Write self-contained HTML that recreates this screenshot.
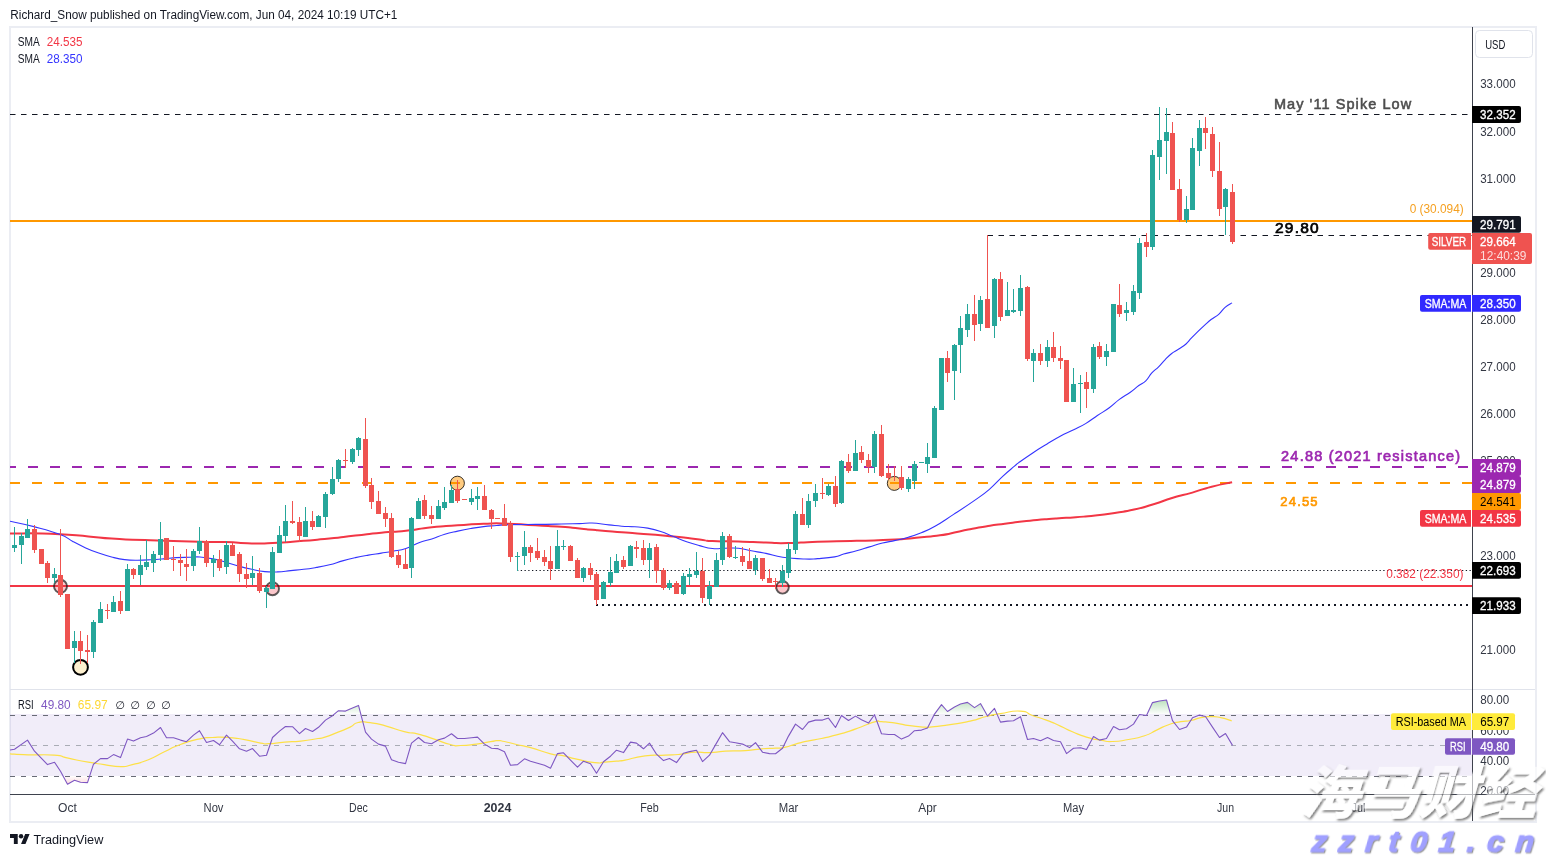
<!DOCTYPE html>
<html lang="en"><head><meta charset="utf-8"><title>SILVER chart</title>
<style>html,body{margin:0;padding:0;background:#fff;}body{width:1546px;height:857px;overflow:hidden;font-family:"Liberation Sans", "Noto Sans CJK SC", sans-serif;}svg{display:block}</style>
</head><body>
<svg width="1546" height="857" viewBox="0 0 1546 857" font-family='"Liberation Sans", "Noto Sans CJK SC", sans-serif' shape-rendering="auto">
<defs><clipPath id="cm"><rect x="10" y="27" width="1462" height="663"/></clipPath><clipPath id="cr"><rect x="10" y="690" width="1462" height="104"/></clipPath><clipPath id="c70"><rect x="10" y="690" width="1462" height="24"/></clipPath><clipPath id="c30"><rect x="10" y="776.4" width="1462" height="17.6"/></clipPath><clipPath id="cax"><rect x="1473" y="27" width="62" height="767"/></clipPath><linearGradient id="gg" x1="0" y1="697" x2="0" y2="714" gradientUnits="userSpaceOnUse"><stop offset="0" stop-color="#4caf50" stop-opacity="0.45"/><stop offset="1" stop-color="#4caf50" stop-opacity="0.02"/></linearGradient><linearGradient id="gr" x1="0" y1="776.4" x2="0" y2="790" gradientUnits="userSpaceOnUse"><stop offset="0" stop-color="#f23645" stop-opacity="0.02"/><stop offset="1" stop-color="#f23645" stop-opacity="0.3"/></linearGradient><filter id="ws" x="-5%" y="-15%" width="110%" height="140%"><feGaussianBlur in="SourceAlpha" stdDeviation="0.9" result="b"/><feOffset in="b" dx="2.2" dy="2.2" result="o"/><feFlood flood-color="#5a5a5a" flood-opacity="0.75"/><feComposite in2="o" operator="in" result="sh"/><feComposite in="sh" in2="SourceAlpha" operator="out" result="sh2"/><feColorMatrix in="SourceGraphic" type="matrix" values="1 0 0 0 0 0 1 0 0 0 0 0 1 0 0 0 0 0 0.62 0" result="sg"/><feMerge><feMergeNode in="sh2"/><feMergeNode in="sg"/></feMerge></filter><filter id="ws2" x="-5%" y="-15%" width="110%" height="140%"><feDropShadow dx="1.2" dy="1.2" stdDeviation="0.6" flood-color="#666" flood-opacity="0.7"/></filter></defs>
<rect width="1546" height="857" fill="#fff"/>
<text x="10.3" y="19" font-size="12" fill="#131722" textLength="387" lengthAdjust="spacingAndGlyphs" >Richard_Snow published on TradingView.com, Jun 04, 2024 10:19 UTC+1</text>
<rect x="10" y="27" width="1526" height="795" fill="none" stroke="#ebedf3" stroke-width="2"/>
<g clip-path="url(#cm)">
<line x1="10" y1="114.5" x2="1472" y2="114.5" stroke="#131722" stroke-width="1.2" stroke-dasharray="5.5 5.5"/>
<line x1="987.5" y1="235.5" x2="1472" y2="235.5" stroke="#131722" stroke-width="1.2" stroke-dasharray="5.5 5.5"/>
<line x1="10" y1="221" x2="1472" y2="221" stroke="#ff9800" stroke-width="2"/>
<line x1="6" y1="467" x2="1470" y2="467" stroke="#9c27b0" stroke-width="2" stroke-dasharray="10 12"/>
<line x1="10" y1="483" x2="1472" y2="483" stroke="#ff9800" stroke-width="2" stroke-dasharray="10 12"/>
<line x1="10" y1="586" x2="1472" y2="586" stroke="#f23645" stroke-width="2"/>
<line x1="517" y1="570.5" x2="1472" y2="570.5" stroke="#131722" stroke-width="1.2" stroke-dasharray="1.3 2.45"/>
<line x1="596" y1="605" x2="1470" y2="605" stroke="#131722" stroke-width="2" stroke-dasharray="2 4"/>
<circle cx="60.5" cy="586.3" r="6.5" fill="rgba(242,54,69,0.28)" stroke="rgba(30,30,30,0.72)" stroke-width="1.9"/>
<circle cx="272.5" cy="588.7" r="6.5" fill="rgba(242,54,69,0.28)" stroke="rgba(30,30,30,0.72)" stroke-width="1.9"/>
<circle cx="782.5" cy="587.3" r="6.3" fill="rgba(242,54,69,0.28)" stroke="rgba(30,30,30,0.72)" stroke-width="1.9"/>
<circle cx="80.5" cy="667.3" r="7.4" fill="#fdf0cf" stroke="#000" stroke-width="2"/>
<circle cx="457.4" cy="483.2" r="7" fill="rgba(255,152,0,0.5)" stroke="rgba(0,0,0,0.78)" stroke-width="1"/>
<circle cx="894.3" cy="483.4" r="7" fill="rgba(255,152,0,0.5)" stroke="rgba(0,0,0,0.78)" stroke-width="1"/>
<path d="M10.0,533.4 C26.6,533.7 25.9,532.6 59.8,534.3 C93.7,536.0 81.4,536.6 111.6,538.6 C141.8,540.6 121.0,539.2 150.5,540.2 C180.0,541.2 174.9,541.1 200.0,541.7 C225.1,542.3 208.6,541.5 225.9,542.1 C243.2,542.7 234.5,543.2 251.8,543.4 C269.1,543.6 260.4,543.6 277.7,542.7 C295.0,541.8 286.3,542.2 303.6,540.8 C320.9,539.4 312.2,540.3 329.5,538.6 C346.8,536.9 338.1,537.6 355.4,535.6 C372.7,533.6 364.5,534.3 381.3,532.7 C398.1,531.1 389.1,532.6 405.9,530.8 C422.7,529.0 414.5,529.0 431.8,527.2 C449.1,525.4 440.4,526.5 457.7,525.3 C475.0,524.1 466.3,524.2 483.6,523.7 C500.9,523.2 492.2,523.2 509.5,523.7 C526.8,524.2 518.1,524.3 535.4,525.3 C552.7,526.3 546.6,525.7 561.3,526.8 C576.0,527.9 568.0,527.4 579.5,528.5 C591.0,529.6 581.8,528.8 595.9,530.1 C610.0,531.4 604.5,530.9 621.8,532.3 C639.1,533.7 630.4,532.8 647.7,534.2 C665.0,535.6 656.3,534.8 673.6,536.6 C690.9,538.4 686.5,538.0 699.5,539.5 C712.5,541.0 699.5,540.4 712.5,541.1 C725.5,541.8 720.6,541.0 738.4,541.5 C756.2,542.0 749.4,542.0 765.9,542.5 C782.4,543.0 770.6,543.4 787.9,543.1 C805.2,542.8 794.8,542.5 817.7,541.7 C840.6,540.9 830.7,541.5 856.6,540.8 C882.5,540.1 873.8,540.7 895.4,539.5 C917.0,538.3 906.4,538.6 921.3,537.2 C936.2,535.8 927.3,537.2 940.0,535.3 C952.7,533.4 946.5,534.0 959.4,531.4 C972.3,528.8 965.9,529.8 978.8,527.5 C991.7,525.2 985.3,526.4 998.2,524.6 C1011.1,522.8 1004.7,523.6 1017.6,522.1 C1030.5,520.6 1024.1,521.3 1037.0,520.1 C1049.9,518.9 1043.5,519.4 1056.4,518.4 C1069.3,517.4 1062.9,518.2 1075.8,517.2 C1088.7,516.2 1082.2,516.9 1095.2,515.5 C1108.2,514.1 1101.7,514.9 1114.7,512.9 C1127.7,510.9 1121.2,512.5 1134.1,509.6 C1147.0,506.7 1140.6,508.1 1153.5,504.2 C1166.4,500.3 1160.0,501.7 1172.9,497.8 C1185.8,493.9 1179.4,496.3 1192.3,492.6 C1205.2,488.9 1198.4,490.1 1211.7,486.7 C1225.0,483.3 1225.3,483.8 1232.1,482.3" fill="none" stroke="#f23645" stroke-width="2" stroke-linejoin="round"/>
<path d="M10.0,521.2 C15.6,522.5 22.3,523.5 33.9,526.6 C45.5,529.7 50.7,530.8 59.8,534.3 C68.9,537.8 66.8,538.3 72.8,541.5 C78.8,544.7 79.7,545.2 85.7,547.9 C91.7,550.6 92.7,551.0 98.7,553.1 C104.7,555.2 105.6,555.5 111.6,557.0 C117.6,558.5 118.6,558.9 124.6,559.6 C130.6,560.3 131.5,560.2 137.5,560.2 C143.5,560.2 144.5,560.1 150.5,559.8 C156.5,559.5 157.4,559.4 163.4,558.9 C169.4,558.4 170.4,558.0 176.4,557.6 C182.4,557.2 183.8,557.4 189.3,557.3 C194.8,557.2 194.5,556.6 200.0,557.0 C205.5,557.4 207.0,557.7 213.0,558.9 C219.0,560.1 219.9,560.5 225.9,562.2 C231.9,563.9 232.9,564.4 238.9,566.1 C244.9,567.8 245.8,568.0 251.8,569.3 C257.8,570.6 258.8,571.0 264.8,571.6 C270.8,572.2 271.7,572.1 277.7,571.9 C283.7,571.7 284.7,571.2 290.7,570.6 C296.7,570.0 297.6,570.0 303.6,569.3 C309.6,568.6 310.6,568.4 316.6,567.4 C322.6,566.4 323.5,566.3 329.5,564.8 C335.5,563.3 336.5,562.6 342.5,560.9 C348.5,559.2 349.4,559.0 355.4,557.6 C361.4,556.2 362.4,556.1 368.4,555.1 C374.4,554.1 375.6,554.0 381.3,553.1 C387.0,552.2 387.3,552.2 393.0,551.2 C398.7,550.2 399.9,550.6 405.9,548.6 C411.9,546.6 412.9,545.0 418.9,542.7 C424.9,540.4 425.8,540.9 431.8,538.9 C437.8,536.9 438.8,536.1 444.8,534.3 C450.8,532.5 451.7,532.5 457.7,531.1 C463.7,529.7 464.7,529.5 470.7,528.5 C476.7,527.5 477.6,527.3 483.6,526.6 C489.6,525.9 490.6,526.0 496.6,525.5 C502.6,525.0 500.4,524.9 509.5,524.6 C518.6,524.3 523.3,524.5 535.4,524.4 C547.5,524.3 551.0,524.2 561.3,524.0 C571.6,523.8 572.3,523.8 579.5,523.6 C586.7,523.4 585.1,522.7 592.0,523.0 C598.9,523.3 601.9,524.2 608.9,524.9 C615.9,525.6 615.8,525.8 621.8,526.2 C627.8,526.6 628.8,526.4 634.8,526.8 C640.8,527.2 641.7,527.0 647.7,528.1 C653.7,529.2 654.7,529.4 660.7,531.4 C666.7,533.4 667.6,534.2 673.6,536.6 C679.6,539.0 680.6,539.6 686.6,541.7 C692.6,543.8 693.5,544.0 699.5,545.6 C705.5,547.2 706.5,547.9 712.5,548.5 C718.5,549.1 719.4,548.3 725.4,548.2 C731.4,548.1 732.4,547.6 738.4,548.2 C744.4,548.8 744.9,549.6 751.3,550.8 C757.7,552.0 758.6,551.9 765.9,553.4 C773.2,554.9 773.6,556.0 782.7,557.3 C791.8,558.6 796.6,558.7 804.8,559.0 C813.0,559.3 810.7,559.1 817.7,558.6 C824.7,558.1 828.6,558.0 834.6,556.9 C840.6,555.8 838.5,555.4 843.6,554.0 C848.7,552.6 850.6,552.5 856.6,550.8 C862.6,549.1 863.5,548.7 869.5,546.9 C875.5,545.1 876.5,544.5 882.5,543.0 C888.5,541.5 889.4,541.8 895.4,540.4 C901.4,539.0 902.4,539.0 908.4,537.2 C914.4,535.4 915.1,535.2 921.3,532.7 C927.5,530.2 927.5,530.6 935.0,526.3 C942.5,522.0 944.5,520.3 953.6,514.4 C962.7,508.5 965.6,506.7 973.9,500.9 C982.2,495.1 982.4,495.3 989.1,489.6 C995.8,483.9 996.8,481.9 1002.7,476.4 C1008.6,470.9 1010.6,469.6 1014.5,466.2 C1018.4,462.8 1015.3,465.1 1019.6,462.0 C1023.9,458.9 1026.8,456.9 1033.1,452.7 C1039.4,448.5 1040.4,448.0 1046.7,444.2 C1053.0,440.4 1053.9,439.7 1060.2,436.3 C1066.5,432.9 1067.8,432.8 1073.7,429.8 C1079.6,426.8 1080.1,426.9 1085.6,423.6 C1091.1,420.3 1091.9,419.2 1097.4,415.5 C1102.9,411.8 1104.2,411.6 1109.3,407.8 C1114.4,404.0 1114.6,403.0 1119.4,399.4 C1124.2,395.8 1125.5,395.7 1130.0,392.5 C1134.5,389.3 1135.1,388.2 1138.8,385.5 C1142.5,382.8 1142.8,383.7 1145.8,380.8 C1148.8,377.9 1148.6,376.5 1151.6,373.2 C1154.6,369.9 1155.5,369.9 1158.6,366.8 C1161.7,363.7 1162.0,362.9 1165.0,359.8 C1168.0,356.7 1168.3,356.1 1171.4,353.7 C1174.5,351.2 1175.0,351.6 1178.4,349.3 C1181.8,347.0 1183.0,346.6 1186.0,344.0 C1189.0,341.4 1188.4,341.2 1191.3,338.2 C1194.2,335.2 1195.2,334.3 1198.3,331.2 C1201.4,328.1 1201.7,327.8 1204.7,325.1 C1207.7,322.4 1207.8,322.0 1211.1,319.5 C1214.4,317.0 1215.4,317.1 1218.7,314.3 C1222.0,311.5 1222.0,310.0 1225.1,307.3 C1228.2,304.6 1230.5,303.9 1232.1,302.9" fill="none" stroke="#3434ff" stroke-width="1.1" stroke-linejoin="round"/>
<g shape-rendering="crispEdges"><rect x="14" y="527.2" width="1" height="24.6" fill="#26a69a"/><rect x="12" y="545.1" width="5" height="3.1" fill="#26a69a"/><rect x="21" y="533.0" width="1" height="30.7" fill="#26a69a"/><rect x="19" y="536.3" width="5" height="8.6" fill="#26a69a"/><rect x="27" y="519.0" width="1" height="18.8" fill="#26a69a"/><rect x="25" y="529.1" width="5" height="8.7" fill="#26a69a"/><rect x="34" y="525.3" width="1" height="27.5" fill="#ef5350"/><rect x="32" y="529.1" width="5" height="20.8" fill="#ef5350"/><rect x="41" y="549.0" width="1" height="14.7" fill="#ef5350"/><rect x="39" y="549.0" width="5" height="14.7" fill="#ef5350"/><rect x="47" y="560.9" width="1" height="22.0" fill="#ef5350"/><rect x="45" y="563.1" width="5" height="14.9" fill="#ef5350"/><rect x="54" y="568.0" width="1" height="14.8" fill="#26a69a"/><rect x="52" y="574.1" width="5" height="3.6" fill="#26a69a"/><rect x="60" y="529.1" width="1" height="67.8" fill="#ef5350"/><rect x="58" y="575.1" width="5" height="19.5" fill="#ef5350"/><rect x="67" y="593.8" width="1" height="54.9" fill="#ef5350"/><rect x="65" y="593.8" width="5" height="54.9" fill="#ef5350"/><rect x="74" y="631.0" width="1" height="32.4" fill="#26a69a"/><rect x="72" y="641.0" width="5" height="7.1" fill="#26a69a"/><rect x="80" y="631.0" width="1" height="32.8" fill="#ef5350"/><rect x="78" y="641.0" width="5" height="9.8" fill="#ef5350"/><rect x="87" y="634.9" width="1" height="27.8" fill="#ef5350"/><rect x="85" y="650.4" width="5" height="1.3" fill="#ef5350"/><rect x="93" y="620.0" width="1" height="37.9" fill="#26a69a"/><rect x="91" y="622.2" width="5" height="29.8" fill="#26a69a"/><rect x="100" y="601.8" width="1" height="21.0" fill="#26a69a"/><rect x="98" y="609.0" width="5" height="13.8" fill="#26a69a"/><rect x="107" y="604.0" width="1" height="14.9" fill="#ef5350"/><rect x="105" y="610.0" width="5" height="1.0" fill="#ef5350"/><rect x="113" y="596.0" width="1" height="15.8" fill="#26a69a"/><rect x="111" y="602.1" width="5" height="9.7" fill="#26a69a"/><rect x="120" y="590.8" width="1" height="23.1" fill="#ef5350"/><rect x="118" y="600.9" width="5" height="10.0" fill="#ef5350"/><rect x="127" y="564.1" width="1" height="46.8" fill="#26a69a"/><rect x="125" y="569.3" width="5" height="41.6" fill="#26a69a"/><rect x="133" y="568.0" width="1" height="10.8" fill="#ef5350"/><rect x="131" y="569.0" width="5" height="5.9" fill="#ef5350"/><rect x="140" y="555.0" width="1" height="29.8" fill="#26a69a"/><rect x="138" y="565.2" width="5" height="9.7" fill="#26a69a"/><rect x="146" y="540.2" width="1" height="29.8" fill="#26a69a"/><rect x="144" y="562.2" width="5" height="4.8" fill="#26a69a"/><rect x="153" y="551.2" width="1" height="20.7" fill="#26a69a"/><rect x="151" y="554.1" width="5" height="8.7" fill="#26a69a"/><rect x="160" y="522.0" width="1" height="38.6" fill="#26a69a"/><rect x="158" y="539.2" width="5" height="15.5" fill="#26a69a"/><rect x="166" y="538.0" width="1" height="21.8" fill="#ef5350"/><rect x="164" y="538.0" width="5" height="21.8" fill="#ef5350"/><rect x="173" y="546.0" width="1" height="25.0" fill="#ef5350"/><rect x="171" y="558.5" width="5" height="1.0" fill="#ef5350"/><rect x="180" y="554.1" width="1" height="21.7" fill="#ef5350"/><rect x="178" y="560.2" width="5" height="2.6" fill="#ef5350"/><rect x="186" y="549.0" width="1" height="32.0" fill="#ef5350"/><rect x="184" y="564.1" width="5" height="2.9" fill="#ef5350"/><rect x="193" y="549.0" width="1" height="22.0" fill="#26a69a"/><rect x="191" y="551.2" width="5" height="14.6" fill="#26a69a"/><rect x="199" y="526.9" width="1" height="26.9" fill="#26a69a"/><rect x="197" y="541.2" width="5" height="9.6" fill="#26a69a"/><rect x="206" y="540.2" width="1" height="26.5" fill="#ef5350"/><rect x="204" y="541.2" width="5" height="21.6" fill="#ef5350"/><rect x="213" y="555.0" width="1" height="21.7" fill="#26a69a"/><rect x="211" y="559.3" width="5" height="3.5" fill="#26a69a"/><rect x="219" y="550.1" width="1" height="20.8" fill="#ef5350"/><rect x="217" y="559.2" width="5" height="8.4" fill="#ef5350"/><rect x="226" y="541.2" width="1" height="32.6" fill="#26a69a"/><rect x="224" y="545.1" width="5" height="21.6" fill="#26a69a"/><rect x="232" y="542.7" width="1" height="13.0" fill="#ef5350"/><rect x="230" y="545.1" width="5" height="10.6" fill="#ef5350"/><rect x="239" y="552.1" width="1" height="29.8" fill="#ef5350"/><rect x="237" y="554.1" width="5" height="19.7" fill="#ef5350"/><rect x="246" y="563.1" width="1" height="24.7" fill="#ef5350"/><rect x="244" y="574.1" width="5" height="4.7" fill="#ef5350"/><rect x="252" y="556.1" width="1" height="28.7" fill="#26a69a"/><rect x="250" y="573.2" width="5" height="4.5" fill="#26a69a"/><rect x="259" y="568.0" width="1" height="25.0" fill="#ef5350"/><rect x="257" y="573.2" width="5" height="17.5" fill="#ef5350"/><rect x="266" y="585.5" width="1" height="22.3" fill="#26a69a"/><rect x="264" y="588.1" width="5" height="3.6" fill="#26a69a"/><rect x="272" y="547.3" width="1" height="41.4" fill="#26a69a"/><rect x="270" y="552.1" width="5" height="36.6" fill="#26a69a"/><rect x="279" y="526.2" width="1" height="26.5" fill="#26a69a"/><rect x="277" y="535.0" width="5" height="17.7" fill="#26a69a"/><rect x="285" y="504.9" width="1" height="37.2" fill="#26a69a"/><rect x="283" y="521.1" width="5" height="14.8" fill="#26a69a"/><rect x="292" y="501.0" width="1" height="23.0" fill="#ef5350"/><rect x="290" y="521.1" width="5" height="2.0" fill="#ef5350"/><rect x="299" y="517.1" width="1" height="25.0" fill="#ef5350"/><rect x="297" y="522.0" width="5" height="13.9" fill="#ef5350"/><rect x="305" y="507.1" width="1" height="29.8" fill="#26a69a"/><rect x="303" y="521.1" width="5" height="15.8" fill="#26a69a"/><rect x="312" y="511.0" width="1" height="18.8" fill="#ef5350"/><rect x="310" y="521.1" width="5" height="5.7" fill="#ef5350"/><rect x="318" y="514.9" width="1" height="11.9" fill="#26a69a"/><rect x="316" y="515.9" width="5" height="10.9" fill="#26a69a"/><rect x="325" y="491.9" width="1" height="35.9" fill="#26a69a"/><rect x="323" y="493.9" width="5" height="23.0" fill="#26a69a"/><rect x="332" y="467.0" width="1" height="28.1" fill="#26a69a"/><rect x="330" y="479.0" width="5" height="15.2" fill="#26a69a"/><rect x="338" y="459.0" width="1" height="22.9" fill="#26a69a"/><rect x="336" y="460.1" width="5" height="18.6" fill="#26a69a"/><rect x="345" y="448.9" width="1" height="18.7" fill="#ef5350"/><rect x="343" y="459.9" width="5" height="1.0" fill="#ef5350"/><rect x="352" y="448.0" width="1" height="15.8" fill="#26a69a"/><rect x="350" y="449.1" width="5" height="12.7" fill="#26a69a"/><rect x="358" y="436.9" width="1" height="18.8" fill="#26a69a"/><rect x="356" y="438.1" width="5" height="11.7" fill="#26a69a"/><rect x="365" y="418.0" width="1" height="70.0" fill="#ef5350"/><rect x="363" y="439.1" width="5" height="46.7" fill="#ef5350"/><rect x="371" y="478.0" width="1" height="30.7" fill="#ef5350"/><rect x="369" y="485.1" width="5" height="16.6" fill="#ef5350"/><rect x="378" y="491.0" width="1" height="22.6" fill="#ef5350"/><rect x="376" y="501.1" width="5" height="12.5" fill="#ef5350"/><rect x="385" y="506.9" width="1" height="19.9" fill="#ef5350"/><rect x="383" y="513.0" width="5" height="5.8" fill="#ef5350"/><rect x="391" y="513.0" width="1" height="44.9" fill="#ef5350"/><rect x="389" y="518.1" width="5" height="38.9" fill="#ef5350"/><rect x="398" y="550.5" width="1" height="17.2" fill="#ef5350"/><rect x="396" y="555.1" width="5" height="9.7" fill="#ef5350"/><rect x="405" y="548.6" width="1" height="20.3" fill="#ef5350"/><rect x="403" y="564.1" width="5" height="4.8" fill="#ef5350"/><rect x="411" y="516.8" width="1" height="60.9" fill="#26a69a"/><rect x="409" y="518.1" width="5" height="49.6" fill="#26a69a"/><rect x="418" y="498.1" width="1" height="20.7" fill="#26a69a"/><rect x="416" y="501.1" width="5" height="17.7" fill="#26a69a"/><rect x="424" y="495.1" width="1" height="23.7" fill="#ef5350"/><rect x="422" y="500.3" width="5" height="15.5" fill="#ef5350"/><rect x="431" y="505.8" width="1" height="18.2" fill="#ef5350"/><rect x="429" y="515.2" width="5" height="3.6" fill="#ef5350"/><rect x="438" y="500.0" width="1" height="18.8" fill="#26a69a"/><rect x="436" y="506.1" width="5" height="12.7" fill="#26a69a"/><rect x="444" y="487.1" width="1" height="22.6" fill="#26a69a"/><rect x="442" y="502.0" width="5" height="5.7" fill="#26a69a"/><rect x="451" y="485.1" width="1" height="17.7" fill="#26a69a"/><rect x="449" y="490.3" width="5" height="12.5" fill="#26a69a"/><rect x="457" y="480.0" width="1" height="23.0" fill="#ef5350"/><rect x="455" y="489.0" width="5" height="11.7" fill="#ef5350"/><rect x="464" y="499.0" width="1" height="1.0" fill="#ef5350"/><rect x="462" y="499.0" width="5" height="1.0" fill="#ef5350"/><rect x="471" y="489.0" width="1" height="15.8" fill="#26a69a"/><rect x="469" y="498.1" width="5" height="3.6" fill="#26a69a"/><rect x="477" y="487.1" width="1" height="22.6" fill="#26a69a"/><rect x="475" y="496.1" width="5" height="2.6" fill="#26a69a"/><rect x="484" y="485.1" width="1" height="24.6" fill="#ef5350"/><rect x="482" y="496.1" width="5" height="13.6" fill="#ef5350"/><rect x="491" y="508.8" width="1" height="20.0" fill="#ef5350"/><rect x="489" y="510.1" width="5" height="8.7" fill="#ef5350"/><rect x="497" y="518.0" width="1" height="1.0" fill="#ef5350"/><rect x="495" y="518.0" width="5" height="1.0" fill="#ef5350"/><rect x="504" y="503.9" width="1" height="21.7" fill="#ef5350"/><rect x="502" y="518.1" width="5" height="7.5" fill="#ef5350"/><rect x="510" y="520.7" width="1" height="41.2" fill="#ef5350"/><rect x="508" y="524.0" width="5" height="32.7" fill="#ef5350"/><rect x="517" y="552.1" width="1" height="18.5" fill="#26a69a"/><rect x="515" y="556.0" width="5" height="1.0" fill="#26a69a"/><rect x="524" y="531.1" width="1" height="33.7" fill="#26a69a"/><rect x="522" y="547.0" width="5" height="9.0" fill="#26a69a"/><rect x="530" y="545.1" width="1" height="16.8" fill="#ef5350"/><rect x="528" y="547.0" width="5" height="5.8" fill="#ef5350"/><rect x="537" y="538.0" width="1" height="21.8" fill="#ef5350"/><rect x="535" y="551.2" width="5" height="6.7" fill="#ef5350"/><rect x="544" y="549.9" width="1" height="15.9" fill="#ef5350"/><rect x="542" y="557.0" width="5" height="4.9" fill="#ef5350"/><rect x="550" y="546.0" width="1" height="33.9" fill="#ef5350"/><rect x="548" y="561.1" width="5" height="7.6" fill="#ef5350"/><rect x="557" y="530.1" width="1" height="38.6" fill="#26a69a"/><rect x="555" y="546.0" width="5" height="22.7" fill="#26a69a"/><rect x="563" y="540.2" width="1" height="9.7" fill="#26a69a"/><rect x="561" y="545.6" width="5" height="1.0" fill="#26a69a"/><rect x="570" y="545.1" width="1" height="15.5" fill="#ef5350"/><rect x="568" y="546.0" width="5" height="14.6" fill="#ef5350"/><rect x="577" y="557.9" width="1" height="19.7" fill="#ef5350"/><rect x="575" y="560.3" width="5" height="17.3" fill="#ef5350"/><rect x="583" y="567.0" width="1" height="14.6" fill="#26a69a"/><rect x="581" y="568.3" width="5" height="9.3" fill="#26a69a"/><rect x="590" y="563.1" width="1" height="16.9" fill="#ef5350"/><rect x="588" y="568.3" width="5" height="6.5" fill="#ef5350"/><rect x="596" y="571.5" width="1" height="33.1" fill="#ef5350"/><rect x="594" y="573.9" width="5" height="25.7" fill="#ef5350"/><rect x="603" y="581.0" width="1" height="17.7" fill="#26a69a"/><rect x="601" y="582.2" width="5" height="16.5" fill="#26a69a"/><rect x="610" y="557.0" width="1" height="28.8" fill="#26a69a"/><rect x="608" y="572.2" width="5" height="10.6" fill="#26a69a"/><rect x="616" y="554.0" width="1" height="18.8" fill="#26a69a"/><rect x="614" y="561.2" width="5" height="11.6" fill="#26a69a"/><rect x="623" y="556.0" width="1" height="12.9" fill="#ef5350"/><rect x="621" y="560.3" width="5" height="6.4" fill="#ef5350"/><rect x="630" y="545.0" width="1" height="20.7" fill="#26a69a"/><rect x="628" y="546.0" width="5" height="19.7" fill="#26a69a"/><rect x="636" y="541.1" width="1" height="16.6" fill="#ef5350"/><rect x="634" y="547.2" width="5" height="1.4" fill="#ef5350"/><rect x="643" y="540.1" width="1" height="24.7" fill="#ef5350"/><rect x="641" y="548.2" width="5" height="11.4" fill="#ef5350"/><rect x="649" y="543.0" width="1" height="34.7" fill="#26a69a"/><rect x="647" y="548.2" width="5" height="11.4" fill="#26a69a"/><rect x="656" y="543.9" width="1" height="38.9" fill="#ef5350"/><rect x="654" y="547.2" width="5" height="23.4" fill="#ef5350"/><rect x="663" y="568.3" width="1" height="21.6" fill="#ef5350"/><rect x="661" y="569.8" width="5" height="17.9" fill="#ef5350"/><rect x="669" y="580.0" width="1" height="9.9" fill="#26a69a"/><rect x="667" y="583.2" width="5" height="4.5" fill="#26a69a"/><rect x="676" y="581.0" width="1" height="12.8" fill="#ef5350"/><rect x="674" y="583.2" width="5" height="10.6" fill="#ef5350"/><rect x="683" y="573.1" width="1" height="22.0" fill="#26a69a"/><rect x="681" y="576.1" width="5" height="18.1" fill="#26a69a"/><rect x="689" y="568.0" width="1" height="17.1" fill="#26a69a"/><rect x="687" y="574.1" width="5" height="2.6" fill="#26a69a"/><rect x="696" y="552.1" width="1" height="25.6" fill="#26a69a"/><rect x="694" y="570.9" width="5" height="3.9" fill="#26a69a"/><rect x="702" y="557.9" width="1" height="45.1" fill="#ef5350"/><rect x="700" y="570.9" width="5" height="26.9" fill="#ef5350"/><rect x="709" y="581.0" width="1" height="23.8" fill="#26a69a"/><rect x="707" y="586.0" width="5" height="12.7" fill="#26a69a"/><rect x="716" y="553.1" width="1" height="33.6" fill="#26a69a"/><rect x="714" y="560.1" width="5" height="26.6" fill="#26a69a"/><rect x="722" y="532.0" width="1" height="32.8" fill="#26a69a"/><rect x="720" y="535.9" width="5" height="23.7" fill="#26a69a"/><rect x="729" y="534.0" width="1" height="23.9" fill="#ef5350"/><rect x="727" y="535.9" width="5" height="21.0" fill="#ef5350"/><rect x="735" y="546.0" width="1" height="13.0" fill="#26a69a"/><rect x="733" y="557.0" width="5" height="1.0" fill="#26a69a"/><rect x="742" y="547.2" width="1" height="18.8" fill="#ef5350"/><rect x="740" y="556.0" width="5" height="5.8" fill="#ef5350"/><rect x="749" y="548.0" width="1" height="20.7" fill="#ef5350"/><rect x="747" y="560.9" width="5" height="7.8" fill="#ef5350"/><rect x="755" y="555.1" width="1" height="19.7" fill="#26a69a"/><rect x="753" y="557.9" width="5" height="12.3" fill="#26a69a"/><rect x="762" y="557.9" width="1" height="23.1" fill="#ef5350"/><rect x="760" y="557.9" width="5" height="20.8" fill="#ef5350"/><rect x="769" y="568.9" width="1" height="13.9" fill="#ef5350"/><rect x="767" y="578.0" width="5" height="4.8" fill="#ef5350"/><rect x="775" y="578.0" width="1" height="11.0" fill="#ef5350"/><rect x="773" y="581.0" width="5" height="1.0" fill="#ef5350"/><rect x="782" y="565.0" width="1" height="21.7" fill="#26a69a"/><rect x="780" y="570.9" width="5" height="11.6" fill="#26a69a"/><rect x="788" y="543.0" width="1" height="34.7" fill="#26a69a"/><rect x="786" y="548.9" width="5" height="24.2" fill="#26a69a"/><rect x="795" y="511.0" width="1" height="43.0" fill="#26a69a"/><rect x="793" y="514.0" width="5" height="35.6" fill="#26a69a"/><rect x="802" y="498.0" width="1" height="26.8" fill="#ef5350"/><rect x="800" y="514.1" width="5" height="10.7" fill="#ef5350"/><rect x="808" y="494.1" width="1" height="33.7" fill="#26a69a"/><rect x="806" y="501.1" width="5" height="23.7" fill="#26a69a"/><rect x="815" y="484.0" width="1" height="23.0" fill="#26a69a"/><rect x="813" y="493.1" width="5" height="7.5" fill="#26a69a"/><rect x="822" y="478.0" width="1" height="20.9" fill="#ef5350"/><rect x="820" y="492.8" width="5" height="1.0" fill="#ef5350"/><rect x="828" y="484.0" width="1" height="12.0" fill="#26a69a"/><rect x="826" y="486.2" width="5" height="8.8" fill="#26a69a"/><rect x="835" y="476.0" width="1" height="31.0" fill="#ef5350"/><rect x="833" y="486.2" width="5" height="17.5" fill="#ef5350"/><rect x="841" y="460.1" width="1" height="43.8" fill="#26a69a"/><rect x="839" y="461.1" width="5" height="42.0" fill="#26a69a"/><rect x="848" y="454.0" width="1" height="18.8" fill="#ef5350"/><rect x="846" y="462.0" width="5" height="8.8" fill="#ef5350"/><rect x="855" y="440.0" width="1" height="30.8" fill="#26a69a"/><rect x="853" y="453.0" width="5" height="17.8" fill="#26a69a"/><rect x="861" y="445.8" width="1" height="17.3" fill="#ef5350"/><rect x="859" y="452.0" width="5" height="7.8" fill="#ef5350"/><rect x="868" y="454.0" width="1" height="18.8" fill="#ef5350"/><rect x="866" y="460.1" width="5" height="7.1" fill="#ef5350"/><rect x="874" y="430.9" width="1" height="42.1" fill="#26a69a"/><rect x="872" y="434.0" width="5" height="32.8" fill="#26a69a"/><rect x="881" y="425.1" width="1" height="51.8" fill="#ef5350"/><rect x="879" y="434.0" width="5" height="41.9" fill="#ef5350"/><rect x="888" y="463.9" width="1" height="16.1" fill="#ef5350"/><rect x="886" y="473.3" width="5" height="4.5" fill="#ef5350"/><rect x="894" y="466.1" width="1" height="14.9" fill="#ef5350"/><rect x="901" y="466.1" width="1" height="23.7" fill="#ef5350"/><rect x="899" y="477.2" width="5" height="10.6" fill="#ef5350"/><rect x="908" y="476.9" width="1" height="14.9" fill="#26a69a"/><rect x="906" y="479.1" width="5" height="9.8" fill="#26a69a"/><rect x="914" y="461.0" width="1" height="27.9" fill="#26a69a"/><rect x="912" y="463.9" width="5" height="16.9" fill="#26a69a"/><rect x="921" y="462.0" width="1" height="1.0" fill="#26a69a"/><rect x="919" y="462.0" width="5" height="1.0" fill="#26a69a"/><rect x="927" y="443.0" width="1" height="29.8" fill="#26a69a"/><rect x="925" y="457.1" width="5" height="6.9" fill="#26a69a"/><rect x="934" y="405.9" width="1" height="52.1" fill="#26a69a"/><rect x="932" y="407.9" width="5" height="50.1" fill="#26a69a"/><rect x="941" y="357.9" width="1" height="51.8" fill="#26a69a"/><rect x="939" y="357.9" width="5" height="51.8" fill="#26a69a"/><rect x="947" y="351.1" width="1" height="30.8" fill="#ef5350"/><rect x="945" y="357.9" width="5" height="14.9" fill="#ef5350"/><rect x="954" y="343.9" width="1" height="55.9" fill="#26a69a"/><rect x="952" y="345.0" width="5" height="25.6" fill="#26a69a"/><rect x="960" y="315.9" width="1" height="56.9" fill="#26a69a"/><rect x="958" y="328.1" width="5" height="16.6" fill="#26a69a"/><rect x="967" y="304.0" width="1" height="32.8" fill="#26a69a"/><rect x="965" y="314.0" width="5" height="15.8" fill="#26a69a"/><rect x="974" y="294.9" width="1" height="45.9" fill="#ef5350"/><rect x="972" y="314.0" width="5" height="10.8" fill="#ef5350"/><rect x="980" y="296.0" width="1" height="34.8" fill="#26a69a"/><rect x="978" y="300.1" width="5" height="23.5" fill="#26a69a"/><rect x="987" y="235.1" width="1" height="92.6" fill="#ef5350"/><rect x="985" y="299.1" width="5" height="28.6" fill="#ef5350"/><rect x="994" y="277.8" width="1" height="60.0" fill="#26a69a"/><rect x="992" y="279.0" width="5" height="46.8" fill="#26a69a"/><rect x="1000" y="272.0" width="1" height="49.0" fill="#ef5350"/><rect x="998" y="279.0" width="5" height="37.7" fill="#ef5350"/><rect x="1007" y="282.0" width="1" height="33.8" fill="#26a69a"/><rect x="1005" y="310.1" width="5" height="5.7" fill="#26a69a"/><rect x="1013" y="289.1" width="1" height="23.7" fill="#26a69a"/><rect x="1011" y="310.1" width="5" height="1.7" fill="#26a69a"/><rect x="1020" y="274.9" width="1" height="40.9" fill="#26a69a"/><rect x="1018" y="288.1" width="5" height="22.7" fill="#26a69a"/><rect x="1027" y="285.9" width="1" height="75.0" fill="#ef5350"/><rect x="1025" y="287.2" width="5" height="71.8" fill="#ef5350"/><rect x="1033" y="348.9" width="1" height="33.0" fill="#26a69a"/><rect x="1031" y="353.0" width="5" height="7.9" fill="#26a69a"/><rect x="1040" y="343.9" width="1" height="21.2" fill="#ef5350"/><rect x="1038" y="353.0" width="5" height="7.9" fill="#ef5350"/><rect x="1047" y="340.1" width="1" height="26.9" fill="#26a69a"/><rect x="1045" y="347.2" width="5" height="13.7" fill="#26a69a"/><rect x="1053" y="332.0" width="1" height="29.8" fill="#ef5350"/><rect x="1051" y="347.2" width="5" height="10.7" fill="#ef5350"/><rect x="1060" y="346.0" width="1" height="22.9" fill="#ef5350"/><rect x="1058" y="357.9" width="5" height="3.0" fill="#ef5350"/><rect x="1066" y="360.1" width="1" height="41.9" fill="#ef5350"/><rect x="1064" y="360.1" width="5" height="41.9" fill="#ef5350"/><rect x="1073" y="368.0" width="1" height="34.0" fill="#26a69a"/><rect x="1071" y="384.1" width="5" height="17.9" fill="#26a69a"/><rect x="1080" y="375.0" width="1" height="38.0" fill="#26a69a"/><rect x="1078" y="382.9" width="5" height="1.2" fill="#26a69a"/><rect x="1086" y="371.9" width="1" height="35.9" fill="#ef5350"/><rect x="1084" y="382.2" width="5" height="6.6" fill="#ef5350"/><rect x="1093" y="343.9" width="1" height="49.0" fill="#26a69a"/><rect x="1091" y="347.2" width="5" height="41.6" fill="#26a69a"/><rect x="1099" y="342.0" width="1" height="17.0" fill="#ef5350"/><rect x="1097" y="346.3" width="5" height="10.3" fill="#ef5350"/><rect x="1106" y="343.9" width="1" height="22.1" fill="#26a69a"/><rect x="1104" y="351.1" width="5" height="5.8" fill="#26a69a"/><rect x="1113" y="304.0" width="1" height="48.1" fill="#26a69a"/><rect x="1111" y="304.0" width="5" height="48.1" fill="#26a69a"/><rect x="1119" y="284.0" width="1" height="33.0" fill="#ef5350"/><rect x="1117" y="305.0" width="5" height="8.8" fill="#ef5350"/><rect x="1126" y="302.0" width="1" height="18.9" fill="#26a69a"/><rect x="1124" y="310.1" width="5" height="2.6" fill="#26a69a"/><rect x="1133" y="284.9" width="1" height="30.0" fill="#26a69a"/><rect x="1131" y="291.0" width="5" height="20.8" fill="#26a69a"/><rect x="1139" y="237.9" width="1" height="61.0" fill="#26a69a"/><rect x="1137" y="243.0" width="5" height="49.9" fill="#26a69a"/><rect x="1146" y="233.1" width="1" height="23.9" fill="#ef5350"/><rect x="1144" y="242.0" width="5" height="5.0" fill="#ef5350"/><rect x="1152" y="150.1" width="1" height="99.8" fill="#26a69a"/><rect x="1150" y="155.0" width="5" height="92.0" fill="#26a69a"/><rect x="1159" y="107.0" width="1" height="72.8" fill="#26a69a"/><rect x="1157" y="140.1" width="5" height="16.8" fill="#26a69a"/><rect x="1166" y="108.0" width="1" height="66.0" fill="#26a69a"/><rect x="1164" y="132.2" width="5" height="8.5" fill="#26a69a"/><rect x="1172" y="121.9" width="1" height="68.1" fill="#ef5350"/><rect x="1170" y="133.0" width="5" height="57.0" fill="#ef5350"/><rect x="1179" y="179.0" width="1" height="42.8" fill="#ef5350"/><rect x="1177" y="189.0" width="5" height="30.9" fill="#ef5350"/><rect x="1186" y="196.0" width="1" height="26.8" fill="#26a69a"/><rect x="1184" y="208.9" width="5" height="11.0" fill="#26a69a"/><rect x="1192" y="138.1" width="1" height="71.7" fill="#26a69a"/><rect x="1190" y="148.1" width="5" height="61.7" fill="#26a69a"/><rect x="1199" y="120.0" width="1" height="46.0" fill="#26a69a"/><rect x="1197" y="128.0" width="5" height="23.0" fill="#26a69a"/><rect x="1205" y="117.0" width="1" height="32.0" fill="#ef5350"/><rect x="1203" y="128.0" width="5" height="5.0" fill="#ef5350"/><rect x="1212" y="127.0" width="1" height="50.0" fill="#ef5350"/><rect x="1210" y="133.9" width="5" height="36.9" fill="#ef5350"/><rect x="1219" y="142.0" width="1" height="74.0" fill="#ef5350"/><rect x="1217" y="171.0" width="5" height="37.9" fill="#ef5350"/><rect x="1225" y="188.1" width="1" height="46.7" fill="#26a69a"/><rect x="1223" y="189.0" width="5" height="17.9" fill="#26a69a"/><rect x="1232" y="184.0" width="1" height="59.8" fill="#ef5350"/><rect x="1230" y="192.0" width="5" height="49.6" fill="#ef5350"/></g>
<text x="1273.9" y="108.5" font-size="14.5" fill="#4d4d4d" textLength="137.3" lengthAdjust="spacing" stroke="#4d4d4d" stroke-width="0.55">May '11 Spike Low</text>
<text x="1274.9" y="233" font-size="15.5" fill="#000" textLength="43.8" lengthAdjust="spacing" stroke="#000" stroke-width="0.7">29.80</text>
<text x="1409.7" y="212.8" font-size="12" fill="#f5a020" textLength="54" lengthAdjust="spacingAndGlyphs" >0 (30.094)</text>
<text x="1281.1" y="460.6" font-size="14.5" fill="#9c27b0" textLength="178.9" lengthAdjust="spacing" stroke="#9c27b0" stroke-width="0.65">24.88 (2021 resistance)</text>
<text x="1280.3" y="505.7" font-size="13" fill="#ff9800" textLength="37.3" lengthAdjust="spacing" stroke="#ff9800" stroke-width="0.65">24.55</text>
<text x="1386.2" y="577.6" font-size="12" fill="#f23645" textLength="77.3" lengthAdjust="spacingAndGlyphs" >0.382 (22.350)</text>
</g>
<text x="17.8" y="45.7" font-size="12" fill="#131722" textLength="22" lengthAdjust="spacingAndGlyphs" >SMA</text>
<text x="46.7" y="45.7" font-size="12" fill="#f23645" textLength="35.7" lengthAdjust="spacingAndGlyphs" >24.535</text>
<text x="17.8" y="62.8" font-size="12" fill="#131722" textLength="22" lengthAdjust="spacingAndGlyphs" >SMA</text>
<text x="46.7" y="62.8" font-size="12" fill="#3434ff" textLength="35.7" lengthAdjust="spacingAndGlyphs" >28.350</text>
<line x1="10" y1="689.5" x2="1535" y2="689.5" stroke="#e0e3eb" stroke-width="1"/>
<g clip-path="url(#cr)">
<rect x="10" y="714" width="1462" height="62" fill="#7e57c2" fill-opacity="0.105"/>
<polygon points="10.0,750.0 14.5,749.2 27.5,740.1 34.5,751.2 47.5,764.6 54.5,762.2 60.5,771.2 67.5,784.2 74.5,780.2 80.5,782.2 87.5,782.6 93.5,764.2 100.5,758.6 107.5,758.6 113.5,754.6 120.5,757.6 127.5,739.1 133.5,741.1 140.5,737.7 146.5,736.5 153.5,733.1 160.5,727.5 166.5,737.7 173.5,737.7 180.5,740.1 186.5,741.7 193.5,735.1 199.5,730.7 206.5,742.5 213.5,740.5 219.5,744.7 226.5,735.1 232.5,741.1 239.5,748.8 246.5,751.2 252.5,748.6 259.5,756.2 266.5,755.2 272.5,737.5 279.5,731.1 285.5,726.5 292.5,726.7 299.5,733.7 305.5,728.5 312.5,731.5 318.5,727.3 325.5,720.1 332.5,715.7 338.5,710.7 345.5,711.1 352.5,708.0 358.5,705.4 365.5,732.1 371.5,739.1 378.5,744.1 385.5,746.1 391.5,759.8 398.5,762.2 405.5,763.6 411.5,743.1 418.5,737.5 424.5,742.5 431.5,743.7 438.5,739.7 444.5,738.1 451.5,733.7 457.5,738.5 464.5,738.5 471.5,737.7 477.5,737.1 484.5,744.1 491.5,748.2 497.5,748.6 504.5,751.8 510.5,765.2 517.5,764.6 524.5,758.8 530.5,761.2 537.5,763.2 544.5,765.2 550.5,768.2 557.5,753.6 563.5,752.8 570.5,760.2 577.5,767.2 583.5,761.2 590.5,763.8 596.5,773.2 603.5,761.8 610.5,756.2 616.5,750.2 623.5,752.6 630.5,742.1 636.5,743.1 643.5,748.8 649.5,743.1 656.5,754.2 663.5,760.6 669.5,758.6 676.5,762.6 683.5,753.2 689.5,751.6 696.5,750.2 702.5,761.6 709.5,755.2 716.5,743.1 722.5,732.7 729.5,741.7 735.5,742.7 742.5,744.1 749.5,747.6 755.5,742.7 762.5,752.2 769.5,753.6 775.5,753.8 782.5,748.2 788.5,736.1 795.5,724.1 802.5,729.5 808.5,722.1 815.5,720.1 822.5,720.1 828.5,718.1 835.5,727.5 841.5,715.5 848.5,720.5 855.5,716.1 861.5,719.7 868.5,723.1 874.5,714.7 881.5,733.7 888.5,734.5 894.5,734.5 901.5,739.1 908.5,736.1 914.5,730.7 921.5,730.1 927.5,728.1 934.5,714.1 941.5,704.6 947.5,711.5 954.5,707.0 960.5,704.0 967.5,702.4 974.5,707.6 980.5,703.6 987.5,716.1 994.5,708.4 1000.5,722.1 1007.5,721.1 1013.5,720.7 1020.5,716.7 1027.5,739.5 1033.5,738.5 1040.5,740.7 1047.5,737.5 1053.5,740.5 1060.5,741.7 1066.5,753.6 1073.5,748.2 1080.5,747.7 1086.5,749.6 1093.5,736.5 1099.5,740.1 1106.5,738.5 1113.5,726.5 1119.5,729.7 1126.5,728.7 1133.5,724.1 1139.5,714.5 1146.5,715.5 1152.5,702.6 1159.5,701.0 1166.5,700.0 1172.5,720.7 1179.5,729.5 1186.5,727.1 1192.5,717.7 1199.5,715.1 1205.5,716.5 1212.5,727.1 1219.5,737.5 1225.5,733.5 1232.5,745.4 1231.7,716 10,716" fill="url(#gg)" clip-path="url(#c70)"/>
<polygon points="10.0,750.0 14.5,749.2 27.5,740.1 34.5,751.2 47.5,764.6 54.5,762.2 60.5,771.2 67.5,784.2 74.5,780.2 80.5,782.2 87.5,782.6 93.5,764.2 100.5,758.6 107.5,758.6 113.5,754.6 120.5,757.6 127.5,739.1 133.5,741.1 140.5,737.7 146.5,736.5 153.5,733.1 160.5,727.5 166.5,737.7 173.5,737.7 180.5,740.1 186.5,741.7 193.5,735.1 199.5,730.7 206.5,742.5 213.5,740.5 219.5,744.7 226.5,735.1 232.5,741.1 239.5,748.8 246.5,751.2 252.5,748.6 259.5,756.2 266.5,755.2 272.5,737.5 279.5,731.1 285.5,726.5 292.5,726.7 299.5,733.7 305.5,728.5 312.5,731.5 318.5,727.3 325.5,720.1 332.5,715.7 338.5,710.7 345.5,711.1 352.5,708.0 358.5,705.4 365.5,732.1 371.5,739.1 378.5,744.1 385.5,746.1 391.5,759.8 398.5,762.2 405.5,763.6 411.5,743.1 418.5,737.5 424.5,742.5 431.5,743.7 438.5,739.7 444.5,738.1 451.5,733.7 457.5,738.5 464.5,738.5 471.5,737.7 477.5,737.1 484.5,744.1 491.5,748.2 497.5,748.6 504.5,751.8 510.5,765.2 517.5,764.6 524.5,758.8 530.5,761.2 537.5,763.2 544.5,765.2 550.5,768.2 557.5,753.6 563.5,752.8 570.5,760.2 577.5,767.2 583.5,761.2 590.5,763.8 596.5,773.2 603.5,761.8 610.5,756.2 616.5,750.2 623.5,752.6 630.5,742.1 636.5,743.1 643.5,748.8 649.5,743.1 656.5,754.2 663.5,760.6 669.5,758.6 676.5,762.6 683.5,753.2 689.5,751.6 696.5,750.2 702.5,761.6 709.5,755.2 716.5,743.1 722.5,732.7 729.5,741.7 735.5,742.7 742.5,744.1 749.5,747.6 755.5,742.7 762.5,752.2 769.5,753.6 775.5,753.8 782.5,748.2 788.5,736.1 795.5,724.1 802.5,729.5 808.5,722.1 815.5,720.1 822.5,720.1 828.5,718.1 835.5,727.5 841.5,715.5 848.5,720.5 855.5,716.1 861.5,719.7 868.5,723.1 874.5,714.7 881.5,733.7 888.5,734.5 894.5,734.5 901.5,739.1 908.5,736.1 914.5,730.7 921.5,730.1 927.5,728.1 934.5,714.1 941.5,704.6 947.5,711.5 954.5,707.0 960.5,704.0 967.5,702.4 974.5,707.6 980.5,703.6 987.5,716.1 994.5,708.4 1000.5,722.1 1007.5,721.1 1013.5,720.7 1020.5,716.7 1027.5,739.5 1033.5,738.5 1040.5,740.7 1047.5,737.5 1053.5,740.5 1060.5,741.7 1066.5,753.6 1073.5,748.2 1080.5,747.7 1086.5,749.6 1093.5,736.5 1099.5,740.1 1106.5,738.5 1113.5,726.5 1119.5,729.7 1126.5,728.7 1133.5,724.1 1139.5,714.5 1146.5,715.5 1152.5,702.6 1159.5,701.0 1166.5,700.0 1172.5,720.7 1179.5,729.5 1186.5,727.1 1192.5,717.7 1199.5,715.1 1205.5,716.5 1212.5,727.1 1219.5,737.5 1225.5,733.5 1232.5,745.4 1231.7,776 10,776" fill="url(#gr)" clip-path="url(#c30)"/>
<line x1="10" y1="715.5" x2="1472" y2="715.5" stroke="#686b76" stroke-width="1" stroke-dasharray="5 6"/>
<line x1="10" y1="745.5" x2="1472" y2="745.5" stroke="#a9acb5" stroke-width="1" stroke-dasharray="5 6"/>
<line x1="10" y1="776.5" x2="1472" y2="776.5" stroke="#686b76" stroke-width="1" stroke-dasharray="5 6"/>
<path d="M10.0,753.8 C16.0,754.1 13.3,754.3 28.0,754.8 C42.7,755.3 40.7,754.1 54.1,755.2 C67.5,756.3 56.8,755.9 68.2,758.2 C79.6,760.5 76.2,760.1 88.2,762.2 C100.2,764.3 93.5,763.1 104.2,764.6 C114.9,766.1 110.9,766.6 120.3,766.6 C129.7,766.6 122.9,766.9 132.3,764.6 C141.7,762.3 137.7,764.1 148.4,759.8 C159.1,755.5 153.7,756.9 164.4,751.8 C175.1,746.7 169.0,748.7 180.4,744.5 C191.8,740.3 187.8,741.4 198.5,739.1 C209.2,736.8 202.5,738.0 212.5,737.5 C222.5,737.0 217.9,736.8 228.6,737.5 C239.3,738.2 233.9,737.8 244.6,739.7 C255.3,741.6 252.7,741.8 260.7,743.1 C268.7,744.4 260.7,744.0 268.7,743.7 C276.7,743.4 274.0,743.0 284.7,742.1 C295.4,741.2 289.7,742.3 300.8,741.1 C311.9,739.9 309.9,739.8 318.0,738.5 C326.1,737.2 318.3,739.2 325.0,737.1 C331.7,735.0 329.7,735.4 338.1,732.1 C346.5,728.8 343.4,730.3 350.1,727.1 C356.8,723.9 351.4,724.0 358.1,722.5 C364.8,721.0 360.8,721.5 370.2,722.7 C379.6,723.9 374.9,723.1 386.2,726.1 C397.5,729.1 393.5,729.0 404.2,731.7 C414.9,734.4 408.3,731.6 418.3,734.1 C428.3,736.6 423.6,735.6 434.3,739.1 C445.0,742.6 441.7,742.4 450.4,744.5 C459.1,746.6 451.7,745.6 460.4,745.5 C469.1,745.4 466.4,745.4 476.4,744.1 C486.4,742.8 483.5,742.8 490.5,741.7 C497.5,740.6 492.8,740.8 497.5,740.7 C502.2,740.6 498.2,740.2 504.5,741.5 C510.8,742.8 507.8,742.4 516.5,744.5 C525.2,746.6 519.2,744.6 530.6,747.7 C542.0,750.8 539.9,751.2 550.6,753.8 C561.3,756.4 554.0,753.8 562.7,755.6 C571.4,757.4 566.0,756.9 576.7,759.2 C587.4,761.5 585.3,761.6 594.7,762.6 C604.1,763.6 596.4,762.8 604.8,762.2 C613.2,761.6 613.3,761.5 620.0,760.8 C626.7,760.1 616.6,761.9 625.0,760.2 C633.4,758.5 631.7,757.5 645.1,755.8 C658.5,754.1 653.1,755.7 665.1,755.2 C677.1,754.7 671.2,755.2 681.2,754.2 C691.2,753.2 685.9,752.7 695.2,752.2 C704.5,751.7 699.2,752.9 709.2,752.6 C719.2,752.3 713.3,751.9 725.3,751.2 C737.3,750.5 733.3,751.4 745.3,750.6 C757.3,749.8 751.4,749.6 761.4,748.8 C771.4,748.0 767.4,748.7 775.4,748.2 C783.4,747.7 778.7,748.6 785.4,747.2 C792.1,745.8 788.1,746.1 795.5,744.1 C802.9,742.1 798.8,743.0 807.5,741.1 C816.2,739.2 812.1,740.5 821.5,738.5 C830.9,736.5 826.2,737.6 835.6,735.1 C845.0,732.6 840.9,733.9 849.6,731.1 C858.3,728.3 852.9,729.8 861.6,726.7 C870.3,723.6 869.0,723.4 875.7,721.7 C882.4,720.0 875.0,721.2 881.7,721.7 C888.4,722.2 886.3,721.8 895.7,723.1 C905.1,724.4 900.0,724.4 909.8,725.7 C919.6,727.0 918.3,726.6 925.0,727.1 C931.7,727.6 921.6,727.9 930.0,727.1 C938.4,726.3 936.7,726.7 950.1,724.7 C963.5,722.7 958.1,723.8 970.1,721.1 C982.1,718.4 976.2,719.0 986.2,716.5 C996.2,714.0 988.8,715.5 1000.2,713.7 C1011.6,711.9 1009.6,710.5 1020.3,711.1 C1031.0,711.7 1023.6,712.5 1032.3,715.5 C1041.0,718.5 1036.9,716.6 1046.3,720.1 C1055.7,723.6 1051.7,722.2 1060.4,726.1 C1069.1,730.0 1063.7,728.0 1072.4,731.7 C1081.1,735.4 1077.0,734.3 1086.4,737.1 C1095.8,739.9 1091.8,738.6 1100.5,740.1 C1109.2,741.6 1103.2,741.7 1112.5,741.5 C1121.8,741.3 1117.8,741.4 1128.5,739.5 C1139.2,737.6 1135.2,738.8 1144.6,735.7 C1154.0,732.6 1148.6,733.8 1156.6,730.1 C1164.6,726.4 1160.6,727.5 1168.6,724.7 C1176.6,721.9 1173.3,723.1 1180.7,721.7 C1188.1,720.3 1184.0,721.8 1190.7,720.5 C1197.4,719.2 1194.0,719.0 1200.7,717.7 C1207.4,716.4 1204.1,716.7 1210.8,716.7 C1217.5,716.7 1213.8,716.3 1220.8,717.7 C1227.8,719.1 1228.1,719.8 1231.7,720.8" fill="none" stroke="#fde047" stroke-width="1.2" stroke-linejoin="round"/>
<polyline points="10.0,750.0 14.5,749.2 27.5,740.1 34.5,751.2 47.5,764.6 54.5,762.2 60.5,771.2 67.5,784.2 74.5,780.2 80.5,782.2 87.5,782.6 93.5,764.2 100.5,758.6 107.5,758.6 113.5,754.6 120.5,757.6 127.5,739.1 133.5,741.1 140.5,737.7 146.5,736.5 153.5,733.1 160.5,727.5 166.5,737.7 173.5,737.7 180.5,740.1 186.5,741.7 193.5,735.1 199.5,730.7 206.5,742.5 213.5,740.5 219.5,744.7 226.5,735.1 232.5,741.1 239.5,748.8 246.5,751.2 252.5,748.6 259.5,756.2 266.5,755.2 272.5,737.5 279.5,731.1 285.5,726.5 292.5,726.7 299.5,733.7 305.5,728.5 312.5,731.5 318.5,727.3 325.5,720.1 332.5,715.7 338.5,710.7 345.5,711.1 352.5,708.0 358.5,705.4 365.5,732.1 371.5,739.1 378.5,744.1 385.5,746.1 391.5,759.8 398.5,762.2 405.5,763.6 411.5,743.1 418.5,737.5 424.5,742.5 431.5,743.7 438.5,739.7 444.5,738.1 451.5,733.7 457.5,738.5 464.5,738.5 471.5,737.7 477.5,737.1 484.5,744.1 491.5,748.2 497.5,748.6 504.5,751.8 510.5,765.2 517.5,764.6 524.5,758.8 530.5,761.2 537.5,763.2 544.5,765.2 550.5,768.2 557.5,753.6 563.5,752.8 570.5,760.2 577.5,767.2 583.5,761.2 590.5,763.8 596.5,773.2 603.5,761.8 610.5,756.2 616.5,750.2 623.5,752.6 630.5,742.1 636.5,743.1 643.5,748.8 649.5,743.1 656.5,754.2 663.5,760.6 669.5,758.6 676.5,762.6 683.5,753.2 689.5,751.6 696.5,750.2 702.5,761.6 709.5,755.2 716.5,743.1 722.5,732.7 729.5,741.7 735.5,742.7 742.5,744.1 749.5,747.6 755.5,742.7 762.5,752.2 769.5,753.6 775.5,753.8 782.5,748.2 788.5,736.1 795.5,724.1 802.5,729.5 808.5,722.1 815.5,720.1 822.5,720.1 828.5,718.1 835.5,727.5 841.5,715.5 848.5,720.5 855.5,716.1 861.5,719.7 868.5,723.1 874.5,714.7 881.5,733.7 888.5,734.5 894.5,734.5 901.5,739.1 908.5,736.1 914.5,730.7 921.5,730.1 927.5,728.1 934.5,714.1 941.5,704.6 947.5,711.5 954.5,707.0 960.5,704.0 967.5,702.4 974.5,707.6 980.5,703.6 987.5,716.1 994.5,708.4 1000.5,722.1 1007.5,721.1 1013.5,720.7 1020.5,716.7 1027.5,739.5 1033.5,738.5 1040.5,740.7 1047.5,737.5 1053.5,740.5 1060.5,741.7 1066.5,753.6 1073.5,748.2 1080.5,747.7 1086.5,749.6 1093.5,736.5 1099.5,740.1 1106.5,738.5 1113.5,726.5 1119.5,729.7 1126.5,728.7 1133.5,724.1 1139.5,714.5 1146.5,715.5 1152.5,702.6 1159.5,701.0 1166.5,700.0 1172.5,720.7 1179.5,729.5 1186.5,727.1 1192.5,717.7 1199.5,715.1 1205.5,716.5 1212.5,727.1 1219.5,737.5 1225.5,733.5 1232.5,745.4" fill="none" stroke="#7e57c2" stroke-width="1.1" stroke-linejoin="round"/>
</g>
<text x="18" y="709" font-size="12" fill="#131722" textLength="15.7" lengthAdjust="spacingAndGlyphs" >RSI</text>
<text x="41.1" y="709" font-size="12" fill="#7e57c2" textLength="29.5" lengthAdjust="spacingAndGlyphs" >49.80</text>
<text x="77.8" y="709" font-size="12" fill="#fdd835" textLength="29.9" lengthAdjust="spacingAndGlyphs" >65.97</text>
<text x="115.2" y="709.3" font-size="11" fill="#131722" font-family="DejaVu Sans, sans-serif">∅</text>
<text x="130.2" y="709.3" font-size="11" fill="#131722" font-family="DejaVu Sans, sans-serif">∅</text>
<text x="145.9" y="709.3" font-size="11" fill="#131722" font-family="DejaVu Sans, sans-serif">∅</text>
<text x="160.9" y="709.3" font-size="11" fill="#131722" font-family="DejaVu Sans, sans-serif">∅</text>
<line x1="10" y1="794.5" x2="1535" y2="794.5" stroke="#3e424d" stroke-width="1"/>
<line x1="1472.5" y1="27" x2="1472.5" y2="821" stroke="#3e424d" stroke-width="1"/>
<rect x="1475.5" y="30.5" width="57" height="27" rx="4" fill="#fff" stroke="#e0e3eb" stroke-width="1"/>
<text x="1485.2" y="48.9" font-size="12" fill="#131722" textLength="20.1" lengthAdjust="spacingAndGlyphs" >USD</text>
<g clip-path="url(#cax)">
<text x="1480.2" y="87.8" font-size="12" fill="#333743" textLength="35.4" lengthAdjust="spacingAndGlyphs" >33.000</text>
<text x="1480.2" y="135.9" font-size="12" fill="#333743" textLength="35.4" lengthAdjust="spacingAndGlyphs" >32.000</text>
<text x="1480.2" y="182.7" font-size="12" fill="#333743" textLength="35.4" lengthAdjust="spacingAndGlyphs" >31.000</text>
<text x="1480.2" y="276.8" font-size="12" fill="#333743" textLength="35.4" lengthAdjust="spacingAndGlyphs" >29.000</text>
<text x="1480.2" y="324.0" font-size="12" fill="#333743" textLength="35.4" lengthAdjust="spacingAndGlyphs" >28.000</text>
<text x="1480.2" y="371.1" font-size="12" fill="#333743" textLength="35.4" lengthAdjust="spacingAndGlyphs" >27.000</text>
<text x="1480.2" y="418.2" font-size="12" fill="#333743" textLength="35.4" lengthAdjust="spacingAndGlyphs" >26.000</text>
<text x="1480.2" y="465.4" font-size="12" fill="#333743" textLength="35.4" lengthAdjust="spacingAndGlyphs" >25.000</text>
<text x="1480.2" y="559.6" font-size="12" fill="#333743" textLength="35.4" lengthAdjust="spacingAndGlyphs" >23.000</text>
<text x="1480.2" y="653.9" font-size="12" fill="#333743" textLength="35.4" lengthAdjust="spacingAndGlyphs" >21.000</text>
<text x="1480.2" y="703.8" font-size="12" fill="#333743" textLength="29.1" lengthAdjust="spacingAndGlyphs" >80.00</text>
<text x="1480.2" y="734.5" font-size="12" fill="#333743" textLength="29.1" lengthAdjust="spacingAndGlyphs" >60.00</text>
<text x="1480.2" y="764.9" font-size="12" fill="#333743" textLength="29.1" lengthAdjust="spacingAndGlyphs" >40.00</text>
<text x="1480.2" y="795.4" font-size="12" fill="#333743" textLength="29.1" lengthAdjust="spacingAndGlyphs" >20.00</text>
</g>
<path d="M1472,106 H1519 Q1521,106 1521,108 V121 Q1521,123 1519,123 H1472 Q1472,123 1472,123 V106 Q1472,106 1472,106 Z" fill="#000"/>
<text x="1480.1" y="118.8" font-size="12" fill="#fff" textLength="35.5" lengthAdjust="spacingAndGlyphs" stroke="#fff" stroke-width="0.3">32.352</text>
<path d="M1472,215.9 H1519 Q1521,215.9 1521,217.9 V230.8 Q1521,232.8 1519,232.8 H1472 Q1472,232.8 1472,232.8 V215.9 Q1472,215.9 1472,215.9 Z" fill="#131722"/>
<text x="1480.1" y="228.7" font-size="12" fill="#fff" textLength="35.5" lengthAdjust="spacingAndGlyphs" stroke="#fff" stroke-width="0.3">29.791</text>
<path d="M1472,233.1 H1530 Q1532,233.1 1532,235.1 V261.9 Q1532,263.9 1530,263.9 H1472 Q1472,263.9 1472,263.9 V233.1 Q1472,233.1 1472,233.1 Z" fill="#ef5350"/>
<text x="1480.1" y="245.8" font-size="12" fill="#fff" textLength="35.5" lengthAdjust="spacingAndGlyphs" stroke="#fff" stroke-width="0.3">29.664</text>
<text x="1480.1" y="259.8" font-size="12" fill="#fff" textLength="46.3" lengthAdjust="spacingAndGlyphs" fill-opacity="0.8">12:40:39</text>
<path d="M1430.2,233.1 H1471 Q1471,233.1 1471,233.1 V249.7 Q1471,249.7 1471,249.7 H1430.2 Q1428.2,249.7 1428.2,247.7 V235.1 Q1428.2,233.1 1430.2,233.1 Z" fill="#ef5350"/>
<text x="1431.8" y="245.7" font-size="12" fill="#fff" textLength="34.3" lengthAdjust="spacingAndGlyphs" stroke="#fff" stroke-width="0.3">SILVER</text>
<path d="M1472,295 H1519 Q1521,295 1521,297 V309.8 Q1521,311.8 1519,311.8 H1472 Q1472,311.8 1472,311.8 V295 Q1472,295 1472,295 Z" fill="#3029ff"/>
<text x="1480.1" y="307.7" font-size="12" fill="#fff" textLength="35.5" lengthAdjust="spacingAndGlyphs" stroke="#fff" stroke-width="0.3">28.350</text>
<path d="M1422,295 H1471 Q1471,295 1471,295 V311.8 Q1471,311.8 1471,311.8 H1422 Q1420,311.8 1420,309.8 V297 Q1420,295 1422,295 Z" fill="#3029ff"/>
<text x="1424.7" y="307.7" font-size="12" fill="#fff" textLength="41.7" lengthAdjust="spacingAndGlyphs" stroke="#fff" stroke-width="0.3">SMA:MA</text>
<path d="M1472,459.1 H1519 Q1521,459.1 1521,461.1 V474.1 Q1521,476.1 1519,476.1 H1472 Q1472,476.1 1472,476.1 V459.1 Q1472,459.1 1472,459.1 Z" fill="#9c27b0"/>
<text x="1480.1" y="471.9" font-size="12" fill="#fff" textLength="35.5" lengthAdjust="spacingAndGlyphs" stroke="#fff" stroke-width="0.3">24.879</text>
<path d="M1472,476.1 H1519 Q1521,476.1 1521,478.1 V490.9 Q1521,492.9 1519,492.9 H1472 Q1472,492.9 1472,492.9 V476.1 Q1472,476.1 1472,476.1 Z" fill="#9c27b0"/>
<text x="1480.1" y="488.8" font-size="12" fill="#fff" textLength="35.5" lengthAdjust="spacingAndGlyphs" stroke="#fff" stroke-width="0.3">24.879</text>
<path d="M1472,492.9 H1519 Q1521,492.9 1521,494.9 V507.9 Q1521,509.9 1519,509.9 H1472 Q1472,509.9 1472,509.9 V492.9 Q1472,492.9 1472,492.9 Z" fill="#ff9800"/>
<text x="1480.1" y="505.7" font-size="12" fill="#000" textLength="35.5" lengthAdjust="spacingAndGlyphs" >24.541</text>
<path d="M1472,510 H1519 Q1521,510 1521,512 V524.8 Q1521,526.8 1519,526.8 H1472 Q1472,526.8 1472,526.8 V510 Q1472,510 1472,510 Z" fill="#f23645"/>
<text x="1480.1" y="522.7" font-size="12" fill="#fff" textLength="35.5" lengthAdjust="spacingAndGlyphs" stroke="#fff" stroke-width="0.3">24.535</text>
<path d="M1422,510 H1471 Q1471,510 1471,510 V526.8 Q1471,526.8 1471,526.8 H1422 Q1420,526.8 1420,524.8 V512 Q1420,510 1422,510 Z" fill="#f23645"/>
<text x="1424.7" y="522.7" font-size="12" fill="#fff" textLength="41.7" lengthAdjust="spacingAndGlyphs" stroke="#fff" stroke-width="0.3">SMA:MA</text>
<path d="M1472,562 H1519 Q1521,562 1521,564 V576.8 Q1521,578.8 1519,578.8 H1472 Q1472,578.8 1472,578.8 V562 Q1472,562 1472,562 Z" fill="#000"/>
<text x="1480.1" y="574.7" font-size="12" fill="#fff" textLength="35.5" lengthAdjust="spacingAndGlyphs" stroke="#fff" stroke-width="0.3">22.693</text>
<path d="M1472,597.3 H1519 Q1521,597.3 1521,599.3 V611.9 Q1521,613.9 1519,613.9 H1472 Q1472,613.9 1472,613.9 V597.3 Q1472,597.3 1472,597.3 Z" fill="#000"/>
<text x="1480.1" y="609.9" font-size="12" fill="#fff" textLength="35.5" lengthAdjust="spacingAndGlyphs" stroke="#fff" stroke-width="0.3">21.933</text>
<path d="M1472,713.3 H1513 Q1515,713.3 1515,715.3 V727.9 Q1515,729.9 1513,729.9 H1472 Q1472,729.9 1472,729.9 V713.3 Q1472,713.3 1472,713.3 Z" fill="#ffeb3b"/>
<text x="1480.2" y="725.9" font-size="12" fill="#000" textLength="29.1" lengthAdjust="spacingAndGlyphs" >65.97</text>
<path d="M1393,713.3 H1471 Q1471,713.3 1471,713.3 V729.9 Q1471,729.9 1471,729.9 H1393 Q1391,729.9 1391,727.9 V715.3 Q1391,713.3 1393,713.3 Z" fill="#ffeb3b"/>
<text x="1395.7" y="725.9" font-size="12" fill="#000" textLength="70.3" lengthAdjust="spacingAndGlyphs" >RSI-based MA</text>
<path d="M1472,738.2 H1513 Q1515,738.2 1515,740.2 V752.8 Q1515,754.8 1513,754.8 H1472 Q1472,754.8 1472,754.8 V738.2 Q1472,738.2 1472,738.2 Z" fill="#7e57c2"/>
<text x="1480.2" y="750.8" font-size="12" fill="#fff" textLength="29.1" lengthAdjust="spacingAndGlyphs" stroke="#fff" stroke-width="0.3">49.80</text>
<path d="M1447,738.2 H1471 Q1471,738.2 1471,738.2 V754.8 Q1471,754.8 1471,754.8 H1447 Q1445,754.8 1445,752.8 V740.2 Q1445,738.2 1447,738.2 Z" fill="#7e57c2"/>
<text x="1450" y="750.8" font-size="12" fill="#fff" textLength="15.5" lengthAdjust="spacingAndGlyphs" stroke="#fff" stroke-width="0.3">RSI</text>
<text x="67.5" y="811.8" font-size="12" fill="#333743" textLength="18.8" lengthAdjust="spacingAndGlyphs" text-anchor="middle" >Oct</text>
<text x="213.5" y="811.8" font-size="12" fill="#333743" textLength="19.9" lengthAdjust="spacingAndGlyphs" text-anchor="middle" >Nov</text>
<text x="358.5" y="811.8" font-size="12" fill="#333743" textLength="18.8" lengthAdjust="spacingAndGlyphs" text-anchor="middle" >Dec</text>
<text x="497.5" y="811.8" font-size="12" fill="#333743" font-weight="bold" textLength="27.6" lengthAdjust="spacingAndGlyphs" text-anchor="middle" >2024</text>
<text x="649.5" y="811.8" font-size="12" fill="#333743" textLength="18.5" lengthAdjust="spacingAndGlyphs" text-anchor="middle" >Feb</text>
<text x="788.5" y="811.8" font-size="12" fill="#333743" textLength="19.5" lengthAdjust="spacingAndGlyphs" text-anchor="middle" >Mar</text>
<text x="927.5" y="811.8" font-size="12" fill="#333743" textLength="18.5" lengthAdjust="spacingAndGlyphs" text-anchor="middle" >Apr</text>
<text x="1073.5" y="811.8" font-size="12" fill="#333743" textLength="21" lengthAdjust="spacingAndGlyphs" text-anchor="middle" >May</text>
<text x="1225.5" y="811.8" font-size="12" fill="#333743" textLength="17" lengthAdjust="spacingAndGlyphs" text-anchor="middle" >Jun</text>
<text x="1358.5" y="811.8" font-size="12" fill="#333743" textLength="14" lengthAdjust="spacingAndGlyphs" text-anchor="middle" >Jul</text>
<g transform="translate(10,831.9) scale(0.552)" fill="#131722"><path d="M14 22H7V11H0V4h14v18zM28 22h-8l7.5-18h8L28 22z"/><circle cx="20" cy="8" r="4"/></g>
<text x="33.5" y="843.8" font-size="13" fill="#131722" textLength="69.8" lengthAdjust="spacingAndGlyphs" >TradingView</text>
<g transform="translate(1300,813) skewX(-16)"><text x="0" y="0" font-size="57" font-weight="900" fill="#fff" textLength="236" lengthAdjust="spacingAndGlyphs" filter="url(#ws)">海马财经</text></g>
<g transform="translate(1311,851.6) skewX(-6)"><text x="0" y="0" font-size="30" font-weight="bold" font-style="italic" fill="#a0a0ff" stroke="#a0a0ff" stroke-width="1.2" textLength="222" lengthAdjust="spacing" filter="url(#ws2)">zzrt01.cn</text></g>
</svg>
</body></html>
